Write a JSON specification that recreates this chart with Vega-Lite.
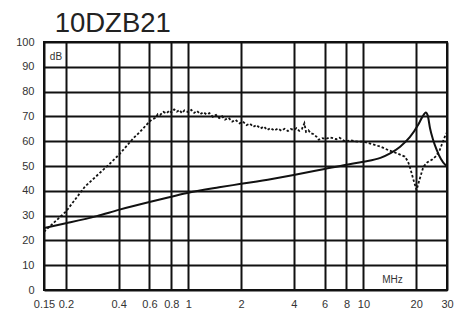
{
  "$schema": "https://vega.github.io/schema/vega-lite/v6.json",
  "width": 403,
  "height": 248,
  "autosize": {"type": "none"},
  "padding": {"left": 44, "top": 42, "right": 16, "bottom": 21},
  "background": "white",
  "title": {"text": "10DZB21", "anchor": "start", "dx": 39, "offset": -1, "font": "Liberation Sans", "fontSize": 27.5, "fontWeight": "normal", "color": "#222"},
  "config": {
    "view": {"stroke": "#111", "strokeWidth": 2},
    "axis": {"labelFont": "Liberation Sans", "labelFontSize": 11, "labelColor": "#333", "gridColor": "#111", "gridWidth": 2, "gridOpacity": 1, "ticks": false, "domain": false, "title": null, "labelOverlap": false}
  },
  "datasets": {
    "solid": [
      {"f": 0.15, "v": 25}, {"f": 0.2, "v": 26.9}, {"f": 0.3, "v": 29.8}, {"f": 0.4, "v": 32.3}, {"f": 0.6, "v": 35.5},
      {"f": 0.8, "v": 37.6}, {"f": 1, "v": 39.2}, {"f": 1.5, "v": 41.4}, {"f": 2, "v": 42.8}, {"f": 3, "v": 44.8},
      {"f": 4, "v": 46.4}, {"f": 6, "v": 48.8}, {"f": 8, "v": 50.5}, {"f": 10, "v": 51.7}, {"f": 12.5, "v": 53.3},
      {"f": 14.2, "v": 55.1}, {"f": 16.2, "v": 57.8}, {"f": 18.4, "v": 61.6}, {"f": 20.5, "v": 66.5}, {"f": 21.7, "v": 69.8},
      {"f": 22.7, "v": 71.6}, {"f": 23.3, "v": 70.3}, {"f": 24, "v": 65.2}, {"f": 25, "v": 60.5},
      {"f": 26.2, "v": 56.5}, {"f": 27.7, "v": 52.8}, {"f": 29.4, "v": 50.4}, {"f": 30, "v": 50}
    ],
    "dotted": [
      {"f": 0.15, "v": 23.5}, {"f": 0.2, "v": 31.6}, {"f": 0.257, "v": 41.7}, {"f": 0.35, "v": 50.4}, {"f": 0.4, "v": 54.4},
      {"f": 0.486, "v": 61.2}, {"f": 0.53, "v": 63.8}, {"f": 0.6, "v": 67.9}, {"f": 0.62, "v": 68.8}, {"f": 0.65, "v": 69.4},
      {"f": 0.67, "v": 70.9}, {"f": 0.69, "v": 70.6}, {"f": 0.72, "v": 71.8}, {"f": 0.75, "v": 71.2}, {"f": 0.78, "v": 72.4},
      {"f": 0.8, "v": 71.6}, {"f": 0.83, "v": 72.8}, {"f": 0.86, "v": 71.9}, {"f": 0.89, "v": 72.6}, {"f": 0.92, "v": 71.3},
      {"f": 0.95, "v": 72.4}, {"f": 1.0, "v": 71.7}, {"f": 1.04, "v": 72.6}, {"f": 1.08, "v": 71.4}, {"f": 1.12, "v": 72.2},
      {"f": 1.17, "v": 70.9}, {"f": 1.22, "v": 71.7}, {"f": 1.27, "v": 70.8}, {"f": 1.32, "v": 71.3}, {"f": 1.38, "v": 69.8},
      {"f": 1.44, "v": 70.6}, {"f": 1.5, "v": 69.3}, {"f": 1.56, "v": 70.1}, {"f": 1.62, "v": 68.7}, {"f": 1.7, "v": 69.4},
      {"f": 1.78, "v": 67.9}, {"f": 1.86, "v": 68.6}, {"f": 1.96, "v": 67.2}, {"f": 2.05, "v": 67.9}, {"f": 2.15, "v": 66.5},
      {"f": 2.25, "v": 67.1}, {"f": 2.35, "v": 65.8}, {"f": 2.45, "v": 66.5}, {"f": 2.58, "v": 65.1}, {"f": 2.7, "v": 65.9},
      {"f": 2.82, "v": 64.5}, {"f": 2.95, "v": 65.3}, {"f": 3.1, "v": 64.3}, {"f": 3.25, "v": 65.1}, {"f": 3.4, "v": 64.2},
      {"f": 3.55, "v": 65}, {"f": 3.7, "v": 64.1}, {"f": 3.85, "v": 64.9}, {"f": 4.0, "v": 64.5}, {"f": 4.15, "v": 65.3},
      {"f": 4.3, "v": 64.2}, {"f": 4.45, "v": 64.9}, {"f": 4.6, "v": 67.2}, {"f": 4.7, "v": 63.8}, {"f": 4.85, "v": 64.4},
      {"f": 5.0, "v": 63.2}, {"f": 5.2, "v": 62.8}, {"f": 5.4, "v": 61.8}, {"f": 5.55, "v": 60.6}, {"f": 5.8, "v": 61.2},
      {"f": 6.1, "v": 60.9}, {"f": 6.4, "v": 61.5}, {"f": 6.7, "v": 61.2}, {"f": 7.0, "v": 60.8}, {"f": 7.3, "v": 61.4},
      {"f": 7.9, "v": 59.8}, {"f": 8.4, "v": 60.4}, {"f": 9.0, "v": 59.9}, {"f": 10, "v": 59.8}, {"f": 11.2, "v": 58.8},
      {"f": 12.5, "v": 57.8}, {"f": 14, "v": 56.3}, {"f": 15.6, "v": 55.1}, {"f": 17.2, "v": 53.8}, {"f": 17.9, "v": 52},
      {"f": 18.4, "v": 49.7}, {"f": 19.2, "v": 45}, {"f": 20.1, "v": 40.3}, {"f": 21, "v": 45}, {"f": 22, "v": 49.7},
      {"f": 23.2, "v": 51.5}, {"f": 24.7, "v": 52.6}, {"f": 26, "v": 54}, {"f": 27.3, "v": 56.5}, {"f": 28.5, "v": 60},
      {"f": 29.4, "v": 62.5}, {"f": 30, "v": 63.5}
    ]
  },
  "layer": [
    {
      "data": {"name": "solid"},
      "mark": {"type": "line", "color": "#111", "strokeWidth": 2, "interpolate": "monotone", "clip": true},
      "encoding": {
        "x": {"field": "f", "type": "quantitative", "scale": {"type": "log", "domain": [0.15, 30], "nice": false},
          "axis": {"values": [0.15, 0.2, 0.4, 0.6, 0.8, 1, 2, 4, 6, 8, 10, 20, 30], "format": ".2~f", "labelPadding": 8, "labelFlush": false, "labelOverlap": false}},
        "y": {"field": "v", "type": "quantitative", "scale": {"domain": [0, 100], "nice": false},
          "axis": {"values": [0, 10, 20, 30, 40, 50, 60, 70, 80, 90, 100], "labelPadding": 10, "labelFlush": false, "labelOverlap": false}}
      }
    },
    {
      "data": {"name": "dotted"},
      "mark": {"type": "line", "color": "#111", "strokeWidth": 1.8, "strokeDash": [2.5, 2], "clip": true},
      "encoding": {
        "x": {"field": "f", "type": "quantitative",
          "axis": {"values": [0.15, 0.2, 0.4, 0.6, 0.8, 1, 2, 4, 6, 8, 10, 20, 30], "format": ".2~f", "labelPadding": 8, "labelFlush": false, "labelOverlap": false}},
        "y": {"field": "v", "type": "quantitative",
          "axis": {"values": [0, 10, 20, 30, 40, 50, 60, 70, 80, 90, 100], "labelPadding": 10, "labelFlush": false, "labelOverlap": false}}
      }
    },
    {
      "data": {"values": [{"t": "dB"}]},
      "mark": {"type": "text", "align": "left", "baseline": "middle", "font": "Liberation Sans", "fontSize": 10, "color": "#333"},
      "encoding": {
        "x": {"datum": 0.162, "type": "quantitative",
          "axis": {"values": [0.15, 0.2, 0.4, 0.6, 0.8, 1, 2, 4, 6, 8, 10, 20, 30], "format": ".2~f", "labelPadding": 8, "labelFlush": false, "labelOverlap": false}},
        "y": {"datum": 94, "type": "quantitative",
          "axis": {"values": [0, 10, 20, 30, 40, 50, 60, 70, 80, 90, 100], "labelPadding": 10, "labelFlush": false, "labelOverlap": false}},
        "text": {"field": "t"}
      }
    },
    {
      "data": {"values": [{"t": "MHz"}]},
      "mark": {"type": "text", "align": "left", "baseline": "middle", "font": "Liberation Sans", "fontSize": 10, "color": "#333"},
      "encoding": {
        "x": {"datum": 12.8, "type": "quantitative",
          "axis": {"values": [0.15, 0.2, 0.4, 0.6, 0.8, 1, 2, 4, 6, 8, 10, 20, 30], "format": ".2~f", "labelPadding": 8, "labelFlush": false, "labelOverlap": false}},
        "y": {"datum": 4, "type": "quantitative",
          "axis": {"values": [0, 10, 20, 30, 40, 50, 60, 70, 80, 90, 100], "labelPadding": 10, "labelFlush": false, "labelOverlap": false}},
        "text": {"field": "t"}
      }
    }
  ]
}
